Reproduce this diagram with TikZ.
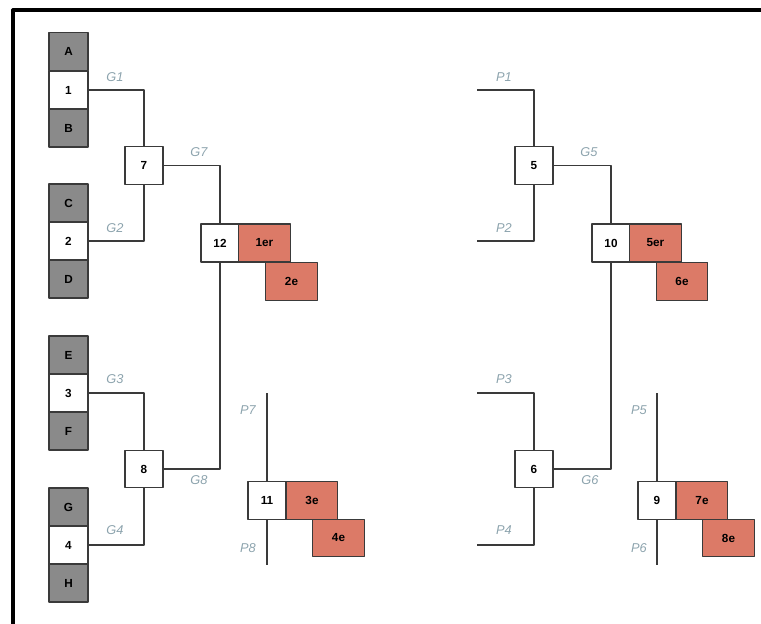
\documentclass[tikz,border=0pt]{standalone}
\usepackage{fontspec}
\setmainfont{Liberation Sans}
\definecolor{teamgray}{HTML}{8A8A8A}
\definecolor{rankred}{HTML}{DC7A67}
\definecolor{labelblue}{HTML}{8CA3AD}
\definecolor{linegray}{HTML}{3A3A3A}
\tikzset{
  team/.style={draw=linegray, fill=teamgray, line width=0.8pt, minimum width=29.25pt, minimum height=28.5pt, inner sep=0pt, font=\fontsize{8.8}{10}\selectfont\bfseries},
  seed/.style={team, fill=white},
  match/.style={draw=linegray, fill=white, line width=0.8pt, minimum width=28.5pt, minimum height=28pt, inner sep=0pt, font=\fontsize{8.8}{10}\selectfont\bfseries},
  rank/.style={match, fill=rankred, minimum width=38.5pt},
  wire/.style={draw=linegray, line width=1.05pt},
  tag/.style={text=labelblue, font=\fontsize{9.6}{11}\selectfont\itshape}
}
\begin{document}
\begin{tikzpicture}[x=0.75pt, y=-0.75pt, line join=round]
            \useasboundingbox (0,0) rectangle (761,624);
            % frame
            \draw[line width=2.4pt] (13,624) -- (13,10) -- (761,10);
            % first column
            \node[team] (A) at (68.5,51.5) {A};
            \node[seed] (s1) at (68.5,90) {1};
            \node[team] (B) at (68.5,128) {B};
            \node[team] (C) at (68.5,203) {C};
            \node[seed] (s2) at (68.5,241) {2};
            \node[team] (D) at (68.5,279) {D};
            \node[team] (E) at (68.5,355) {E};
            \node[seed] (s3) at (68.5,393) {3};
            \node[team] (F) at (68.5,431) {F};
            \node[team] (G) at (68.5,507) {G};
            \node[seed] (s4) at (68.5,545) {4};
            \node[team] (H) at (68.5,583) {H};
            % matches
            \node[match] (m7) at (144,165.5) {7};
            \node[match] (m8) at (144,469) {8};
            \node[match] (m5) at (534,165.5) {5};
            \node[match] (m6) at (534,469) {6};
            \node[match, minimum height=28.5pt] (m12) at (220,243) {12};
            \node[match, minimum height=28.5pt] (m10) at (611,243) {10};
            \node[match] (m11) at (267,500.5) {11};
            \node[match] (m9) at (657,500.5) {9};
            % places
            \node[rank, minimum height=28.5pt] (r1) at (264.5,243) {1er};
            \node[rank, minimum height=29pt] (r2) at (291.5,281.5) {2e};
            \node[rank, minimum height=28.5pt] (r5) at (655.5,243) {5er};
            \node[rank, minimum height=29pt] (r6) at (682,281.5) {6e};
            \node[rank] (r3) at (312,500.5) {3e};
            \node[rank] (r4) at (338.5,538) {4e};
            \node[rank] (r7) at (702,500.5) {7e};
            \node[rank] (r8) at (728.5,538) {8e};
            % loose ends
            \coordinate (p1) at (477,90);
            \coordinate (p2) at (477,241);
            \coordinate (p3) at (477,393);
            \coordinate (p4) at (477,545);
            \coordinate (p7) at (267,393);
            \coordinate (p8) at (267,565);
            \coordinate (p5) at (657,393);
            \coordinate (p6) at (657,565);
            % wires
            \draw[wire] (s1.east) -| (m7.north);
            \draw[wire] (s2.east) -| (m7.south);
            \draw[wire] (s3.east) -| (m8.north);
            \draw[wire] (s4.east) -| (m8.south);
            \draw[wire] (m7.east) -| (m12.north);
            \draw[wire] (m8.east) -| (m12.south);
            \draw[wire] (p1) -| (m5.north);
            \draw[wire] (p2) -| (m5.south);
            \draw[wire] (p3) -| (m6.north);
            \draw[wire] (p4) -| (m6.south);
            \draw[wire] (m5.east) -| (m10.north);
            \draw[wire] (m6.east) -| (m10.south);
            \draw[wire] (p7) -- (m11.north);
            \draw[wire] (m11.south) -- (p8);
            \draw[wire] (p5) -- (m9.north);
            \draw[wire] (m9.south) -- (p6);
            % labels
            \node[tag] (g1) at (115,77) {G1};
            \node[tag] (g2) at (115,228) {G2};
            \node[tag] (g3) at (115,379) {G3};
            \node[tag] (g4) at (115,530) {G4};
            \node[tag] (g7) at (199,152) {G7};
            \node[tag] (g8) at (199,480) {G8};
            \node[tag] (g5) at (589,152) {G5};
            \node[tag] (g6) at (590,480) {G6};
            \node[tag] (t1) at (504,77) {P1};
            \node[tag] (t2) at (504,228) {P2};
            \node[tag] (t3) at (504,379) {P3};
            \node[tag] (t4) at (504,530) {P4};
            \node[tag] (t7) at (248,410) {P7};
            \node[tag] (t8) at (248,548) {P8};
            \node[tag] (t5) at (639,410) {P5};
            \node[tag] (t6) at (639,548) {P6};
        \end{tikzpicture}
\end{document}
